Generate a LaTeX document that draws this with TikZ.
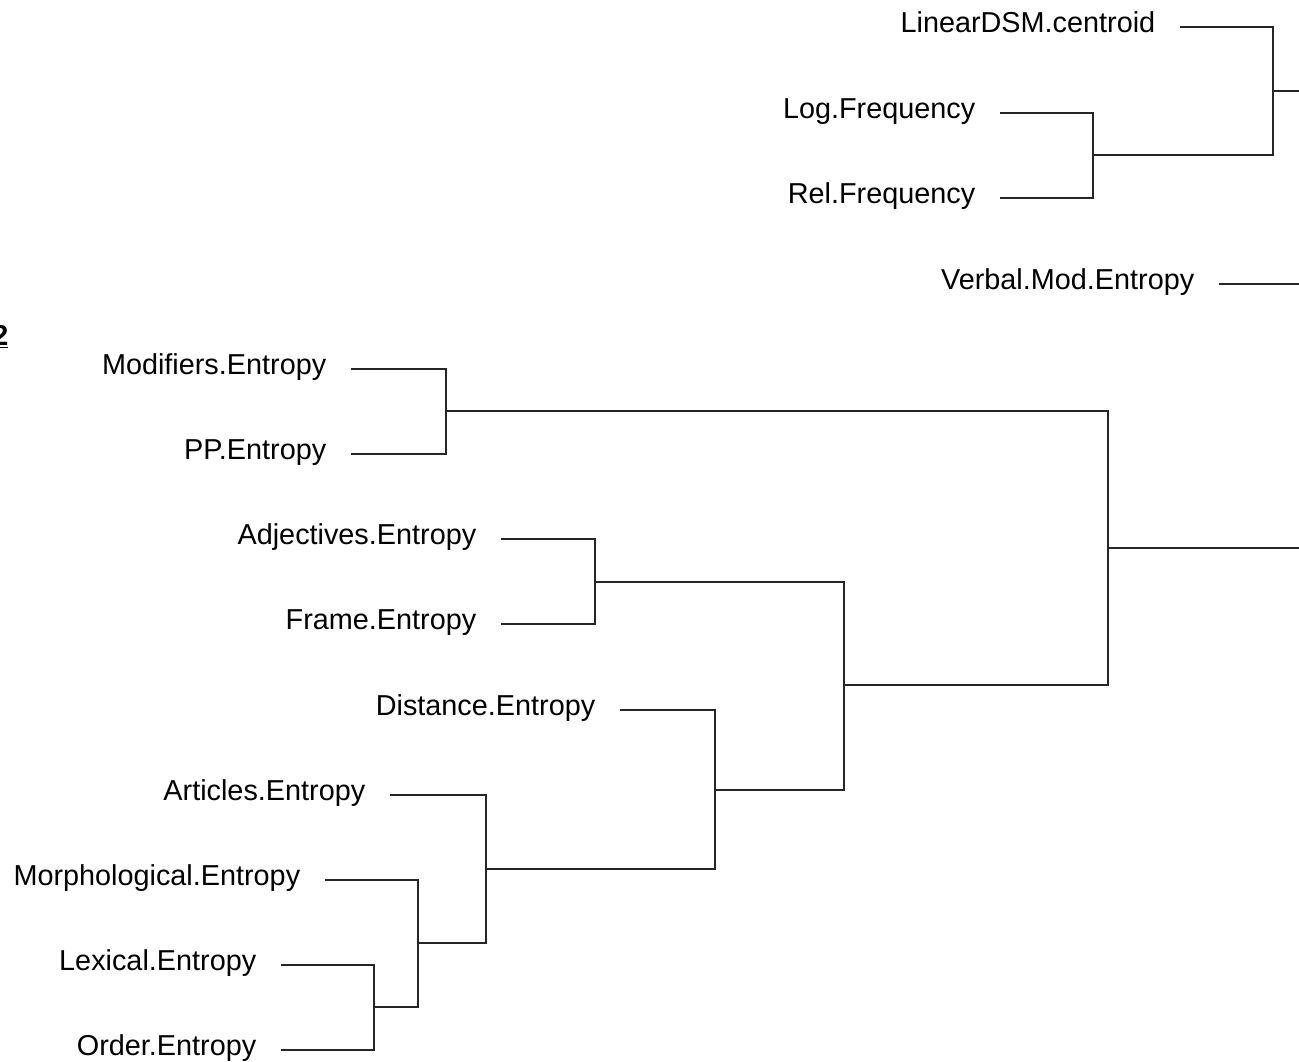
\documentclass[tikz,border=0pt]{standalone}
\usepackage{fontspec}
\setmainfont{Liberation Sans}
\usepackage{tikz}
\usetikzlibrary{positioning}

\begin{document}
\begin{tikzpicture}[x=0.02cm, y=-0.02cm,
  leaf/.style={anchor=east, inner xsep=13.9pt, inner ysep=0pt, text height=12.5pt, text depth=5.7pt, font=\fontsize{16.4}{20}\selectfont},
  link/.style={draw=black!85, line width=0.85pt}]
\useasboundingbox (0,0) rectangle (1299,1062);

% cut-off figure number on the left edge
\node[anchor=base west, inner sep=0pt, font=\fontsize{16.4}{20}\selectfont\bfseries] (fignum) at (-8,345) {\underline{2}};

\node[leaf] (linear) at (1180,27) {LinearDSM.centroid};
\node[leaf] (logfreq) at (1000,113) {Log.Frequency};
\node[leaf] (relfreq) at (1000,198) {Rel.Frequency};
\node[leaf] (verbal) at (1219,284) {Verbal.Mod.Entropy};
\node[leaf] (modif) at (351,369) {Modifiers.Entropy};
\node[leaf] (pp) at (351,454) {PP.Entropy};
\node[leaf] (adject) at (501,539) {Adjectives.Entropy};
\node[leaf] (frame) at (501,624) {Frame.Entropy};
\node[leaf] (dist) at (620,710) {Distance.Entropy};
\node[leaf] (artic) at (390,795) {Articles.Entropy};
\node[leaf] (morph) at (325,880) {Morphological.Entropy};
\node[leaf] (lexic) at (281,965) {Lexical.Entropy};
\node[leaf] (order) at (281,1050) {Order.Entropy};

% merge points
\coordinate (freq) at (1093,155);
\coordinate (top) at (1273,91);
\coordinate (topout) at (1299,91);
\coordinate (verbalout) at (1299,284);
\coordinate (modpp) at (446,411);
\coordinate (adjframe) at (595,582);
\coordinate (lexorder) at (374,1007);
\coordinate (morphlo) at (418,943);
\coordinate (articml) at (486,869);
\coordinate (distam) at (715,790);
\coordinate (afdist) at (844,685);
\coordinate (entropy) at (1108,548);
\coordinate (entout) at (1299,548);

\draw[link] (linear.east) -| (top);
\draw[link] (logfreq.east) -| (freq);
\draw[link] (relfreq.east) -| (freq);
\draw[link] (freq) -| (top);
\draw[link] (top) -- (topout);
\draw[link] (verbal.east) -- (verbalout);

\draw[link] (modif.east) -| (modpp);
\draw[link] (pp.east) -| (modpp);
\draw[link] (adject.east) -| (adjframe);
\draw[link] (frame.east) -| (adjframe);
\draw[link] (lexic.east) -| (lexorder);
\draw[link] (order.east) -| (lexorder);
\draw[link] (morph.east) -| (morphlo);
\draw[link] (lexorder) -| (morphlo);
\draw[link] (artic.east) -| (articml);
\draw[link] (morphlo) -| (articml);
\draw[link] (dist.east) -| (distam);
\draw[link] (articml) -| (distam);
\draw[link] (adjframe) -| (afdist);
\draw[link] (distam) -| (afdist);
\draw[link] (modpp) -| (entropy);
\draw[link] (afdist) -| (entropy);
\draw[link] (entropy) -- (entout);

\end{tikzpicture}
\end{document}
